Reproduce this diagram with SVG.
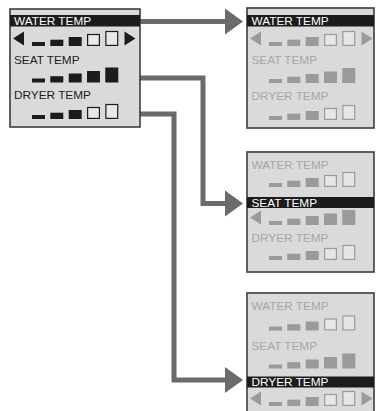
<svg xmlns="http://www.w3.org/2000/svg" xmlns:xlink="http://www.w3.org/1999/xlink" width="376" height="411" viewBox="0 0 376 411">
<style>
.bg{fill:#ffffff}
.box{fill:#dadada;stroke:#3c3c3c;stroke-width:1.6}
.hl{fill:#1c1c1c}
.t{font-family:"Liberation Sans",Arial,sans-serif;font-size:11.8px}
.tw{fill:#ffffff}
.tb{fill:#1c1c1c}
.tg{fill:#a6a6a6}
.fb{fill:#1c1c1c}
.ob{fill:#e8e8e8;stroke:#1c1c1c;stroke-width:1.2}
.fg{fill:#9a9a9a}
.og{fill:#e6e6e6;stroke:#9a9a9a;stroke-width:1.2}
.con{fill:none;stroke:#6b6b6b;stroke-width:5;stroke-linejoin:miter}
.head{fill:#6b6b6b}
</style>
<defs>
<g id="k3">
<rect class="fb" x="22" y="-4" width="13" height="4"/>
<rect class="fb" x="40.3" y="-6.3" width="13" height="6.3"/>
<rect class="fb" x="58.7" y="-9" width="13" height="9"/>
<rect class="ob" x="77.6" y="-11.5" width="11.8" height="10.9"/>
<rect class="ob" x="95.9" y="-14.5" width="11.8" height="13.9"/>
</g>
<g id="k5">
<rect class="fb" x="22" y="-4" width="13" height="4"/>
<rect class="fb" x="40.3" y="-6.3" width="13" height="6.3"/>
<rect class="fb" x="58.7" y="-9" width="13" height="9"/>
<rect class="fb" x="77" y="-11.5" width="13" height="11.5"/>
<rect class="fb" x="95.3" y="-15" width="13" height="15"/>
</g>
<g id="g3">
<rect class="fg" x="22" y="-4" width="13" height="4"/>
<rect class="fg" x="40.3" y="-6.3" width="13" height="6.3"/>
<rect class="fg" x="58.7" y="-9" width="13" height="9"/>
<rect class="og" x="77.6" y="-11.5" width="11.8" height="10.9"/>
<rect class="og" x="95.9" y="-14.5" width="11.8" height="13.9"/>
</g>
<g id="g5">
<rect class="fg" x="22" y="-4" width="13" height="4"/>
<rect class="fg" x="40.3" y="-6.3" width="13" height="6.3"/>
<rect class="fg" x="58.7" y="-9" width="13" height="9"/>
<rect class="fg" x="77" y="-11.5" width="13" height="11.5"/>
<rect class="fg" x="95.3" y="-15" width="13" height="15"/>
</g>
<polygon id="tlk" class="fb" points="3,-7.5 14,-14.5 14,-0.5"/>
<polygon id="trk" class="fb" points="125.5,-7.5 114.5,-14.5 114.5,-0.5"/>
<polygon id="tlg" class="fg" points="3,-7.5 14,-14.5 14,-0.5"/>
<polygon id="trg" class="fg" points="125.5,-7.5 114.5,-14.5 114.5,-0.5"/>
</defs>
<rect class="bg" x="0" y="0" width="376" height="411"/>

<g id="connectors">
<polyline class="con" points="140,21.5 227,21.5"/>
<polygon class="head" points="225,8.5 243,21.5 225,34.5"/>
<polyline class="con" points="140,78 203,78 203,203.5 227,203.5"/>
<polygon class="head" points="225,190.5 243,203.5 225,216.5"/>
<polyline class="con" points="140,114 174,114 174,380 227,380"/>
<polygon class="head" points="225,367 243,380 225,393"/>
</g>

<g id="main-display">
<rect class="box" x="10" y="9" width="130" height="118"/>
<rect class="hl" x="10" y="15" width="130" height="11.5"/>
<text class="t tw" x="14" y="25">WATER TEMP</text>
<use xlink:href="#tlk" transform="translate(10,46)"/>
<use xlink:href="#k3" transform="translate(10,46)"/>
<use xlink:href="#trk" transform="translate(10,46)"/>
<text class="t tb" x="14" y="63.5">SEAT TEMP</text>
<use xlink:href="#k5" transform="translate(10,82.5)"/>
<text class="t tb" x="14" y="98.5">DRYER TEMP</text>
<use xlink:href="#k3" transform="translate(10,119)"/>
</g>

<g id="screen-water">
<rect class="box" x="247" y="8" width="127" height="120"/>
<rect class="hl" x="247" y="15" width="127" height="11.5"/>
<text class="t tw" x="251.5" y="25">WATER TEMP</text>
<use xlink:href="#tlg" transform="translate(247,46)"/>
<use xlink:href="#g3" transform="translate(247,46)"/>
<use xlink:href="#trg" transform="translate(247,46)"/>
<text class="t tg" x="251.5" y="64">SEAT TEMP</text>
<use xlink:href="#g5" transform="translate(247,83)"/>
<text class="t tg" x="251.5" y="100">DRYER TEMP</text>
<use xlink:href="#g3" transform="translate(247,120)"/>
</g>

<g id="screen-seat">
<rect class="box" x="247" y="152" width="127" height="120"/>
<text class="t tg" x="251.5" y="168.5">WATER TEMP</text>
<use xlink:href="#g3" transform="translate(247,187)"/>
<rect class="hl" x="247" y="197" width="127" height="11"/>
<text class="t tw" x="251.5" y="206.5">SEAT TEMP</text>
<use xlink:href="#tlg" transform="translate(247,225)"/>
<use xlink:href="#g5" transform="translate(247,225)"/>
<text class="t tg" x="251.5" y="242">DRYER TEMP</text>
<use xlink:href="#g3" transform="translate(247,260)"/>
</g>

<g id="screen-dryer">
<rect class="box" x="247" y="293" width="127" height="130"/>
<text class="t tg" x="251.5" y="309.5">WATER TEMP</text>
<use xlink:href="#g3" transform="translate(247,330.5)"/>
<text class="t tg" x="251.5" y="350">SEAT TEMP</text>
<use xlink:href="#g5" transform="translate(247,368.5)"/>
<rect class="hl" x="247" y="376.5" width="127" height="11"/>
<text class="t tw" x="251.5" y="386">DRYER TEMP</text>
<use xlink:href="#tlg" transform="translate(247,406)"/>
<use xlink:href="#g3" transform="translate(247,406)"/>
<use xlink:href="#trg" transform="translate(247,406)"/>
</g>
</svg>
